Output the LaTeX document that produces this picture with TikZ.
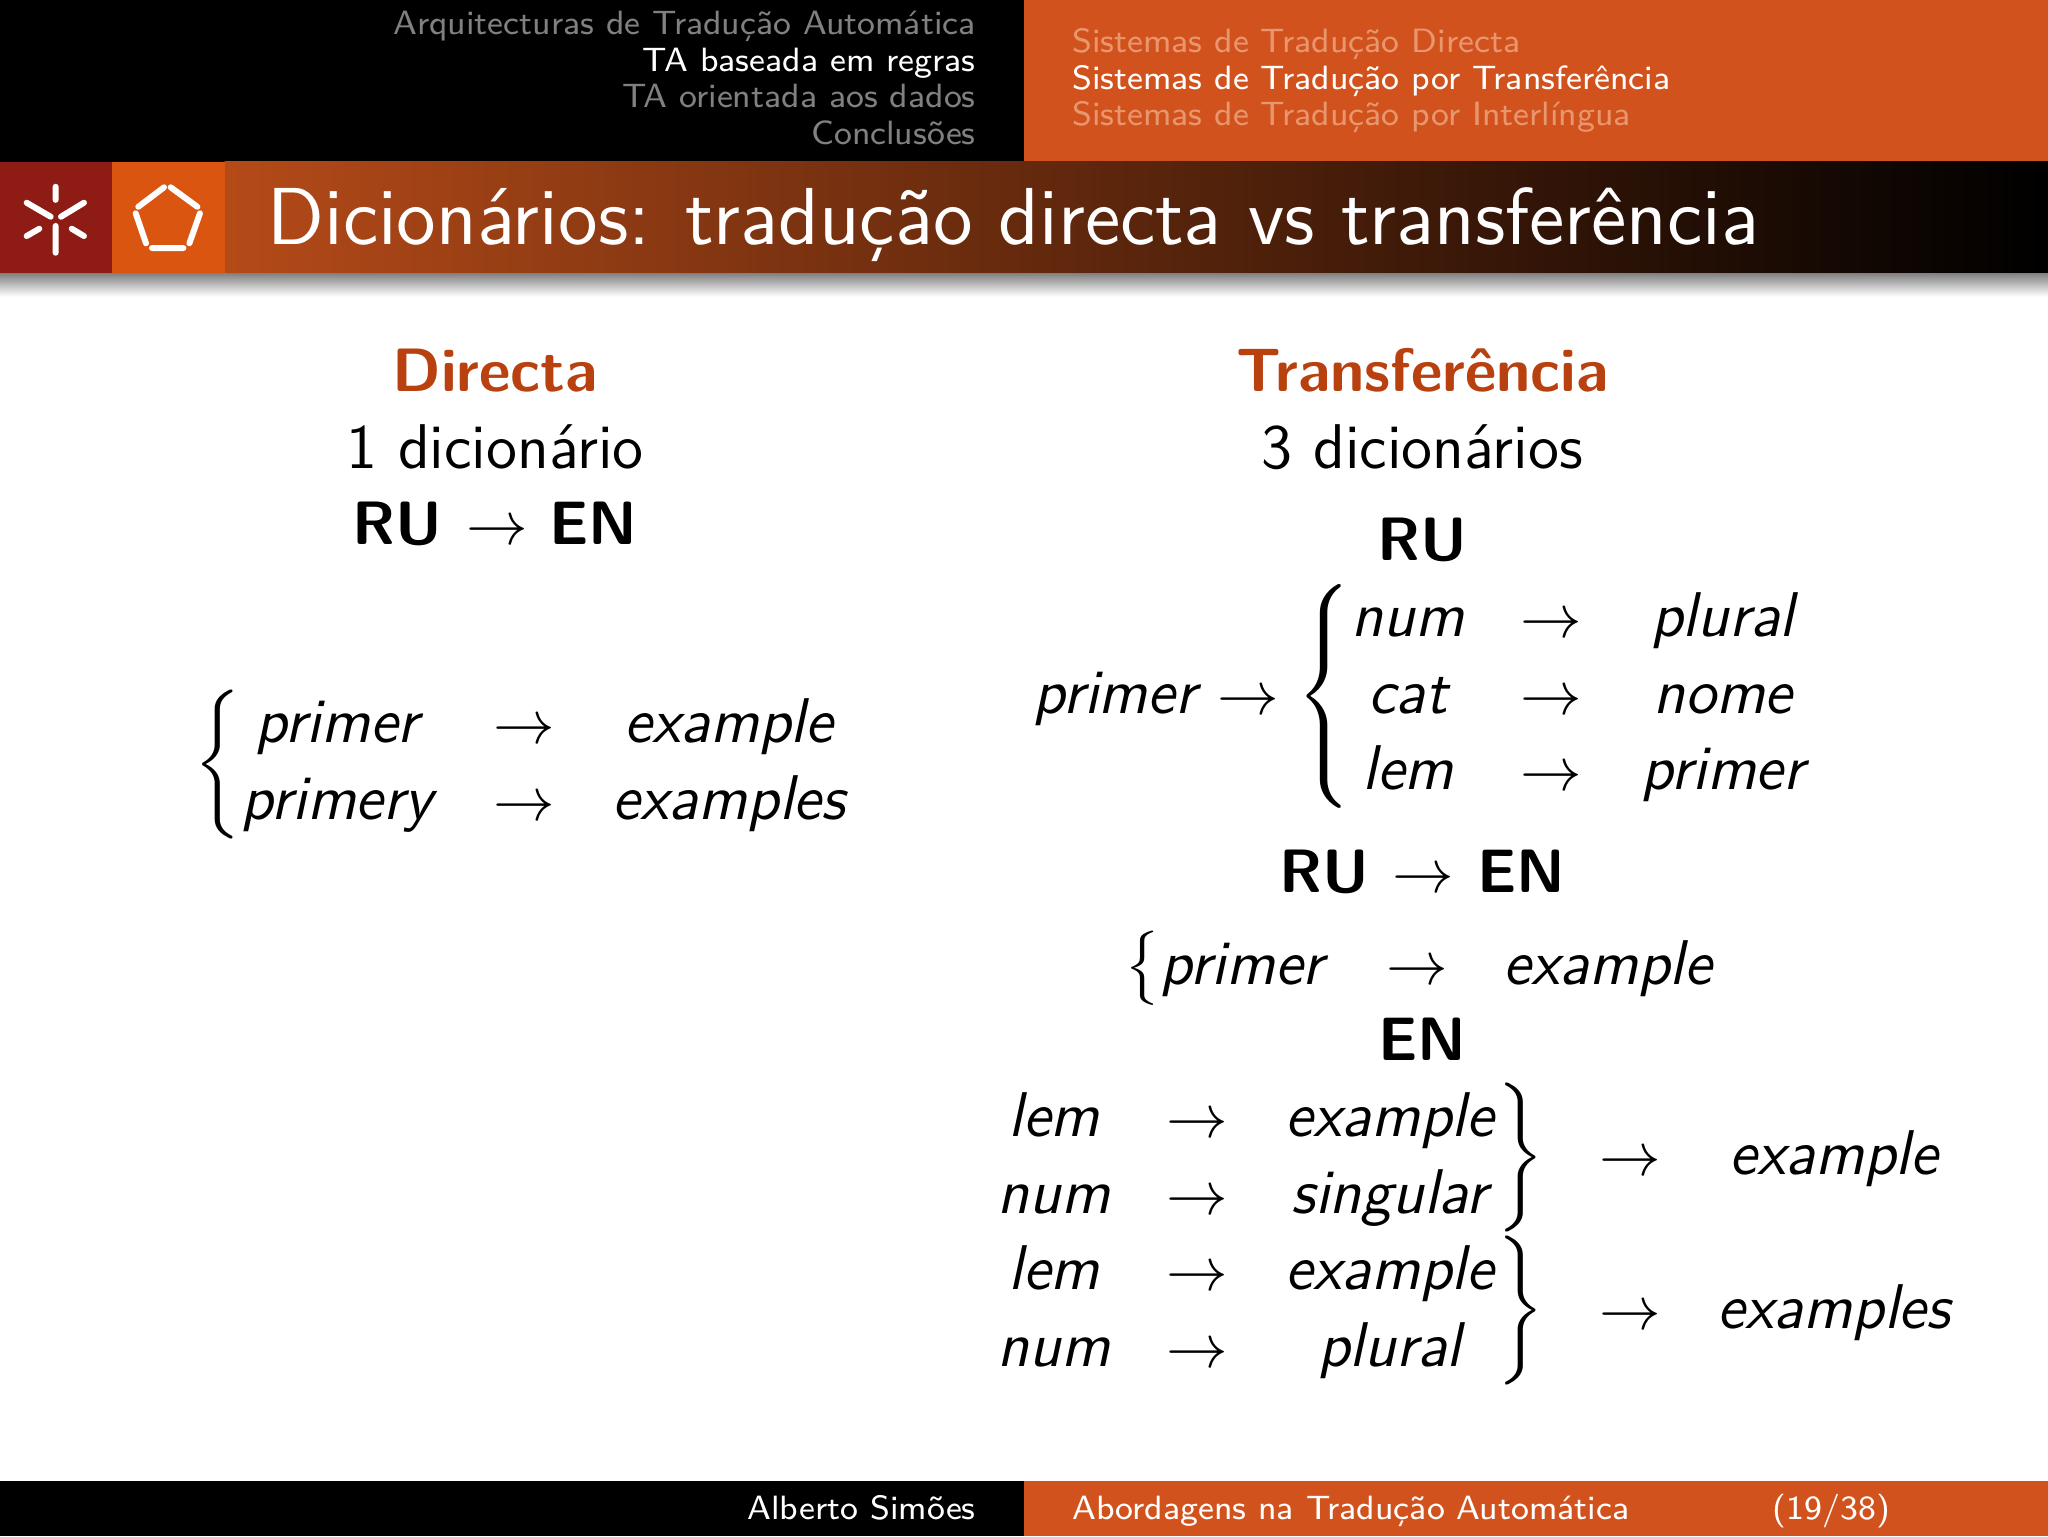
\documentclass[tikz,border=0pt]{standalone}
\usepackage{fix-cm}
\usepackage{fontspec}
\renewcommand{\familydefault}{\sfdefault}
\usetikzlibrary{calc}
\definecolor{umorange}{RGB}{210,82,30}
\definecolor{umred}{RGB}{142,28,20}
\definecolor{umsquare}{RGB}{218,85,16}
\definecolor{umtitle}{RGB}{180,74,24}
\definecolor{ummid}{RGB}{105,42,14}
\definecolor{umhead}{RGB}{184,65,15}
\definecolor{umgrey}{RGB}{128,128,128}
\definecolor{umfade}{RGB}{232,150,110}
\newcommand{\bodysize}{\fontsize{11.2}{13}\selectfont}
\newcommand{\boldsize}{\fontsize{10.85}{13}\selectfont}
\newcommand{\brL}[1]{\scalebox{1.1}{$\nulldelimiterspace=0pt\left\{\vcenter{\hbox{\vrule height #1 depth #1 width 0pt}}\right.$}}
\newcommand{\brR}[1]{\scalebox{1.1}{$\nulldelimiterspace=0pt\left.\vcenter{\hbox{\vrule height #1 depth #1 width 0pt}}\right\}$}}
\tikzset{
  x=0.23141pt,y=-0.23141pt,
  base/.style={inner sep=0pt,outer sep=0pt,anchor=base},
  headl/.style={base,anchor=base east,font=\fontsize{5.97}{8}\selectfont},
  headr/.style={base,anchor=base west,font=\fontsize{5.97}{8}\selectfont},
  titletxt/.style={base,anchor=base west,text=white,font=\fontsize{14.32}{16}\selectfont},
  plain/.style={base,font=\bodysize},
  ital/.style={base,font=\bodysize\itshape,xshift=-0.22pt,yshift=0.15pt},
  bold/.style={base,font=\boldsize\bfseries},
  heading/.style={base,text=umhead,font=\boldsize\bfseries},
  arr/.style={base,font=\fontsize{10.9}{13}\selectfont},
  brace/.style={inner sep=0pt,outer sep=0pt,font=\bodysize},
  logo/.style={white,line width=1.06pt,line cap=round},
}
\begin{document}
\begin{tikzpicture}
\useasboundingbox (0,0) rectangle (1568,1176);
\fill[white] (0,0) rectangle (1568,1176);
% header
\fill[black] (0,0) rectangle (784,124);
\fill[umorange] (784,0) rectangle (1568,124);
% title band
\shade[left color=umtitle,middle color=ummid,right color=black] (172,124) rectangle (1568,209);
\fill[umred] (0,124) rectangle (86,209);
\fill[umsquare] (86,124) rectangle (172,209);
\shade[top color=black!50,bottom color=white] (0,209) rectangle (1568,227);
% footer
\fill[black] (0,1134) rectangle (784,1176);
\fill[umorange] (784,1134) rectangle (1568,1176);
% logos
\draw[logo] (42.6,143)--(42.6,153) (42.6,173)--(42.6,193.5)
  (20.4,155.2)--(38.8,165.9) (64.3,155.2)--(46.7,165.9)
  (20.4,180.7)--(30.1,175.1) (64.3,180.7)--(54.9,175.1);
\draw[logo] (105.9,158.3)--(125.6,143.4) (130.7,143.4)--(151.1,158.3)
  (103.9,163.3)--(111.8,186.3) (153.1,163.3)--(145,186.3)
  (116.4,189.9)--(140.4,189.9);
% header text
\node[headl,text=umgrey] (h1) at (747,26.4) {Arquitecturas de Tradução Automática};
\node[headl,text=white] (h2) at (747,54.4) {TA baseada em regras};
\node[headl,text=umgrey] (h3) at (747,82.4) {TA orientada aos dados};
\node[headl,text=umgrey] (h4) at (747,110.4) {Conclusões};
\node[headr,text=umfade] (s1) at (821,40.4) {Sistemas de Tradução Directa};
\node[headr,text=white] (s2) at (821,68.4) {Sistemas de Tradução por Transferência};
\node[headr,text=umfade] (s3) at (821,96.4) {Sistemas de Tradução por Interlíngua};
\node[titletxt] (title) at (205,187) {Dicionários: tradução directa vs transferência};
% footer text
\node[headl,text=white] (f1) at (747,1163.4) {Alberto Simões};
\node[headr,text=white] (f2) at (821,1163.4) {Abordagens na Tradução Automática};
\node[headl,text=white] (f3) at (1447,1163.4) {(19/38)};
% left column
\node[heading] (dh) at (379,300) {Directa};
\node[plain] (d1) at (379,359) {1 dicionário};
\node[bold] (dru) at (304,417) {RU};
\node[arr] (dar) at (380.5,417) {$\rightarrow$};
\node[bold] (den) at (454.5,417) {EN};
\node[brace] (dbr) at (166.5,585) {\brL{13pt}};
\node[ital] (da1) at (259,569) {primer};
\node[arr] (da2) at (401,569) {$\rightarrow$};
\node[ital] (da3) at (559,569) {example};
\node[ital] (db1) at (259,628) {primery};
\node[arr] (db2) at (401,628) {$\rightarrow$};
\node[ital] (db3) at (559,628) {examples};
% right column
\node[heading] (th) at (1089,300) {Transferência};
\node[plain] (t1) at (1089,359) {3 dicionários};
\node[bold] (tru) at (1089,429) {RU};
\node[ital] (p0) at (854.5,547) {primer};
\node[arr] (p0a) at (956,547) {$\rightarrow$};
\node[brace] (tbr) at (1014,533) {\brL{19.7pt}};
\node[ital] (r1a) at (1079,488) {num};
\node[arr] (r1b) at (1188,488) {$\rightarrow$};
\node[ital] (r1c) at (1320,488) {plural};
\node[ital] (r2a) at (1079,547) {cat};
\node[arr] (r2b) at (1188,547) {$\rightarrow$};
\node[ital] (r2c) at (1320,547) {nome};
\node[ital] (r3a) at (1079,605) {lem};
\node[arr] (r3b) at (1188,605) {$\rightarrow$};
\node[ital] (r3c) at (1320,605) {primer};
\node[bold] (mru) at (1014,683) {RU};
\node[arr] (mar) at (1090,683) {$\rightarrow$};
\node[bold] (men) at (1164.5,683) {EN};
\node[brace] (mbr) at (875,741) {\brL{6.6pt}};
\node[ital] (m1) at (952,754) {primer};
\node[arr] (m2) at (1085,754) {$\rightarrow$};
\node[ital] (m3) at (1232,754) {example};
\node[bold] (ten) at (1089,812) {EN};
\node[ital] (e1a) at (808,871) {lem};
\node[arr] (e1b) at (917,871) {$\rightarrow$};
\node[ital] (e1c) at (1065,871) {example};
\node[ital] (e2a) at (808,930) {num};
\node[arr] (e2b) at (917,930) {$\rightarrow$};
\node[ital] (e2c) at (1065,930) {singular};
\node[ital] (e3a) at (808,988) {lem};
\node[arr] (e3b) at (917,988) {$\rightarrow$};
\node[ital] (e3c) at (1065,988) {example};
\node[ital] (e4a) at (808,1047) {num};
\node[arr] (e4b) at (917,1047) {$\rightarrow$};
\node[ital] (e4c) at (1065,1047) {plural};
\node[brace] (ebr1) at (1164,886.5) {\brR{13pt}};
\node[brace] (ebr2) at (1164,1003.5) {\brR{13pt}};
\node[arr] (o1a) at (1248,900) {$\rightarrow$};
\node[ital] (o1b) at (1405,900) {example};
\node[arr] (o2a) at (1248,1018) {$\rightarrow$};
\node[ital] (o2b) at (1405,1018) {examples};
\end{tikzpicture}
\end{document}
